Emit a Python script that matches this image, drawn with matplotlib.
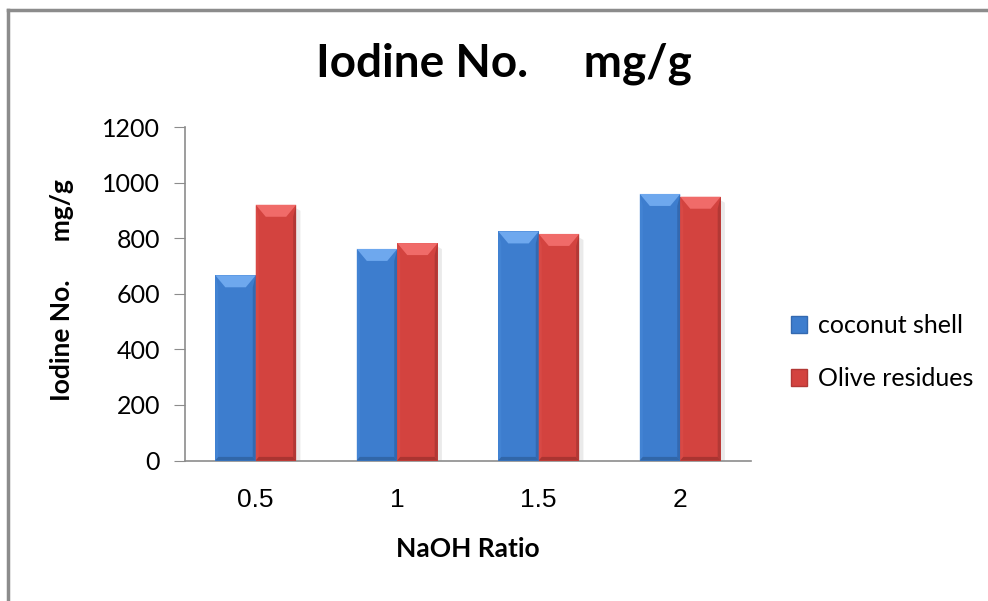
import numpy as np
import matplotlib
matplotlib.use('Agg')
import matplotlib.pyplot as plt
from matplotlib.patches import Polygon, Patch
from matplotlib.lines import Line2D

# data
ratios = ['0.5', '1', '1.5', '2']
coconut = [667, 762, 825, 960]
olive = [921, 783, 816, 950]
series = ['coconut shell', 'Olive residues']

# colours: body, top bevel, left side, right side, bottom
blue = ['#3d7dce', '#6ea8ee', '#4283d3', '#3369b0', '#3166a8']
red = ['#d3433f', '#f06b69', '#d84945', '#b23835', '#aa3431']

plt.rcParams['font.family'] = ['Lato', 'DejaVu Sans']

fig = plt.figure(figsize=(9.88, 6.01), dpi=100)
ax = fig.add_axes([185/988, 1-460.5/601, (751-185)/988, (460.5-127.3)/601])

x = np.arange(len(ratios))
w = 1/3.5
bars_c = ax.bar(x - w/2, coconut, w, color=blue[0], zorder=3)
bars_o = ax.bar(x + w/2, olive, w, color=red[0], zorder=3)

# bevel look like the excel bars
dx = 10/141.5
dy = 12/0.2777
sx = 3/141.5
for bars, cols in [(bars_c, blue), (bars_o, red)]:
    for p in bars:
        x0, bw, h = p.get_x(), p.get_width(), p.get_height()
        x1 = x0 + bw
        top = [(x0, h), (x1, h), (x1-dx, h-dy), (x0+dx, h-dy)]
        left = [(x0, h), (x0+sx, h-dy), (x0+sx, dy*0.3), (x0, 0)]
        right = [(x1, h), (x1-sx, h-dy), (x1-sx, dy*0.3), (x1, 0)]
        bot = [(x0, 0), (x1, 0), (x1-sx, dy*0.3), (x0+sx, dy*0.3)]
        for pts, c in [(left, cols[2]), (right, cols[3]), (bot, cols[4]), (top, cols[1])]:
            ax.add_patch(Polygon(pts, closed=True, facecolor=c, edgecolor='none', zorder=4))
        # soft shadow
        ax.add_patch(Polygon([(x1, h-dy*0.3), (x1+0.03, h-dy*0.5), (x1+0.03, 0), (x1, 0)],
                             closed=True, facecolor='#bbbbbb', alpha=0.3,
                             edgecolor='none', zorder=2))

ax.set_xlim(-0.5, 3.5)
ax.set_ylim(0, 1200)
ax.set_yticks(np.arange(0, 1201, 200))
ax.set_xticks(x)
ax.set_xticklabels(ratios, family=['Liberation Sans'], fontsize=19)
ax.tick_params(axis='x', length=0, pad=20)
ax.tick_params(axis='y', length=8, direction='out', color='#8c8c8c', labelsize=18, pad=10)
for s in ['top', 'right']:
    ax.spines[s].set_visible(False)
for s in ['left', 'bottom']:
    ax.spines[s].set_color('#8c8c8c')
    ax.spines[s].set_linewidth(1.2)

ax.set_xlabel('NaOH Ratio', fontsize=19, fontweight='bold', labelpad=18)
fig.text(62/988, 1-290/601, 'Iodine No.      mg/g', rotation=90, fontsize=19,
         fontweight='bold', ha='center', va='center')
fig.text(504/988, 1-64/601, 'Iodine No.     mg/g', fontsize=33, fontweight='bold',
         ha='center', va='center')

handles = [Patch(facecolor=blue[0], edgecolor=blue[3]), Patch(facecolor=red[0], edgecolor=red[3])]
fig.legend(handles, series, loc='center left', bbox_to_anchor=(768/988, 1-352/601),
           frameon=False, fontsize=18, handlelength=0.65, handleheight=0.65,
           handletextpad=0.45, labelspacing=1.2)

# outer chart frame (only top and left visible)
fig.add_artist(Line2D([8/988, 1], [1-10/601, 1-10/601], color='#8c8c8c', lw=2.5))
fig.add_artist(Line2D([8/988, 8/988], [0, 1-10/601], color='#8c8c8c', lw=2.5))

fig.savefig('out.png', dpi=100)
